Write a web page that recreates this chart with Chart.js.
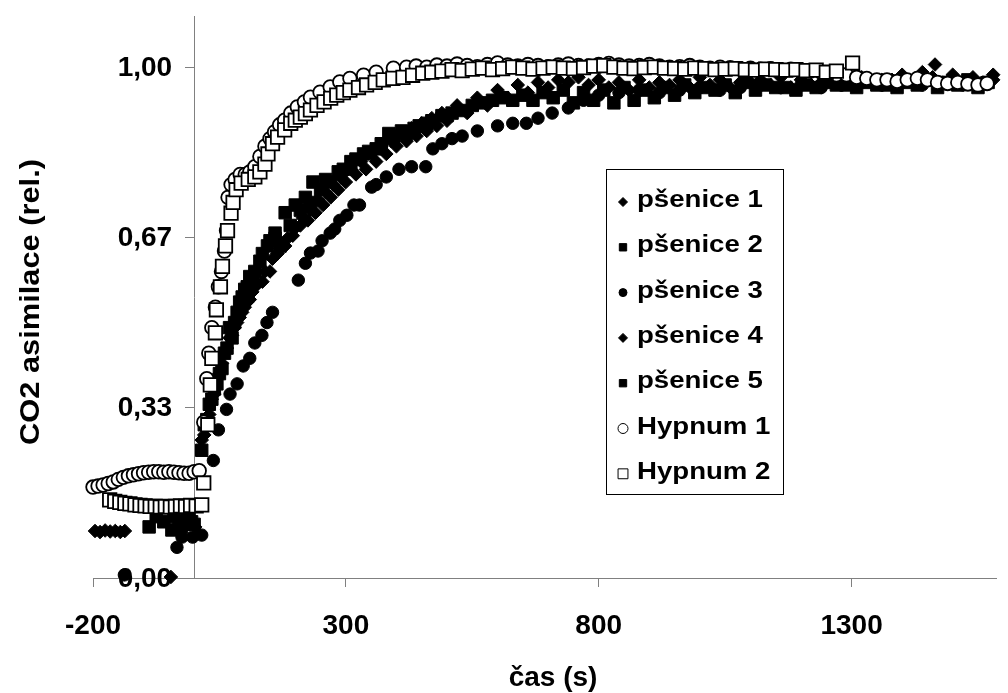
<!DOCTYPE html>
<html>
<head>
<meta charset="utf-8">
<script src="https://cdn.jsdelivr.net/npm/chart.js@4.4.1/dist/chart.umd.min.js"></script>
<style>
  html, body { margin: 0; padding: 0; background: #fff; }
  #wrap { width: 1008px; height: 693px; position: relative; }
</style>
</head>
<body>
<div id="wrap"><canvas id="graf"></canvas></div>
<script>
// [cas (s), relativni asimilace CO2]
const psenice1 = [
  [-196, 0.092], [-186, 0.090], [-176, 0.093], [-166, 0.091], [-156, 0.092], [-146, 0.090], [-137, 0.092],
  [20, 0.28], [30, 0.32], [40, 0.36], [50, 0.40], [60, 0.44], [70, 0.47], [80, 0.49], [90, 0.51], [100, 0.53],
  [110, 0.545], [120, 0.57], [135, 0.58], [150, 0.60], [165, 0.635], [180, 0.65], [195, 0.67], [210, 0.69],
  [225, 0.70], [240, 0.715], [255, 0.73], [270, 0.745], [285, 0.76], [300, 0.775], [320, 0.79], [340, 0.80],
  [360, 0.815], [380, 0.83], [400, 0.845], [420, 0.855], [440, 0.865], [460, 0.875], [480, 0.885], [500, 0.895],
  [540, 0.91], [580, 0.925], [620, 0.94], [660, 0.95], [700, 0.96], [740, 0.97], [780, 0.965], [820, 0.96],
  [860, 0.955], [900, 0.96], [940, 0.965], [980, 0.96], [1020, 0.965], [1060, 0.96], [1100, 0.97], [1140, 0.965],
  [1180, 0.96], [1220, 0.965], [1260, 0.97], [1300, 0.965], [1340, 0.97], [1380, 0.975], [1420, 0.97],
  [1460, 0.98], [1500, 0.975], [1540, 0.97], [1580, 0.975]
];

const psenice2 = [
  [-89, 0.100], [-75, 0.120], [-44, 0.094], [-30, 0.110], [-20, 0.105], [-10, 0.115], [0, 0.105],
  [20, 0.30], [30, 0.34], [40, 0.37], [50, 0.40], [60, 0.44], [70, 0.49], [80, 0.50], [90, 0.54], [100, 0.565],
  [110, 0.59], [120, 0.60], [135, 0.635], [150, 0.66], [160, 0.675], [180, 0.715], [200, 0.73], [220, 0.745],
  [235, 0.775], [260, 0.78], [285, 0.795], [310, 0.815], [335, 0.83], [360, 0.84], [385, 0.87], [410, 0.875],
  [435, 0.88], [460, 0.89], [490, 0.905], [510, 0.91], [550, 0.925], [590, 0.935], [630, 0.935], [670, 0.935],
  [710, 0.94], [750, 0.93], [790, 0.935], [830, 0.93], [870, 0.935], [910, 0.94], [950, 0.945], [990, 0.95],
  [1030, 0.955], [1070, 0.95], [1110, 0.955], [1150, 0.96], [1190, 0.955], [1230, 0.96], [1270, 0.965],
  [1310, 0.96], [1350, 0.965], [1390, 0.96], [1430, 0.965], [1470, 0.96], [1510, 0.965], [1550, 0.96]
];

const psenice3 = [
  [-138, 0.006], [-34, 0.060], [-24, 0.080], [-3, 0.080], [15, 0.084],
  [38, 0.23], [48, 0.29], [64, 0.33], [71, 0.36], [85, 0.38], [97, 0.415], [110, 0.43], [120, 0.46],
  [134, 0.475], [144, 0.50], [155, 0.52], [206, 0.583], [220, 0.616], [230, 0.636], [245, 0.64], [253, 0.66],
  [269, 0.675], [278, 0.683], [288, 0.70], [302, 0.71], [316, 0.73], [327, 0.73], [351, 0.765], [360, 0.77],
  [380, 0.785], [405, 0.80], [430, 0.805], [458, 0.805], [472, 0.84], [490, 0.85], [510, 0.86], [530, 0.865],
  [560, 0.875], [600, 0.885], [630, 0.89], [657, 0.89], [680, 0.90], [708, 0.91], [740, 0.92], [770, 0.935],
  [800, 0.945], [840, 0.95], [880, 0.955], [920, 0.95], [960, 0.955], [1000, 0.96], [1040, 0.955], [1080, 0.96],
  [1120, 0.965], [1160, 0.96], [1200, 0.965], [1240, 0.96], [1280, 0.965], [1320, 0.97], [1360, 0.965],
  [1400, 0.97], [1440, 0.965], [1480, 0.97], [1520, 0.965], [1560, 0.97]
];

const psenice4 = [
  [-46, 0.002], [-18, 0.105], [-8, 0.110], [2, 0.100],
  [15, 0.27], [25, 0.31], [35, 0.35], [45, 0.39], [55, 0.42], [65, 0.45], [75, 0.475], [85, 0.50], [95, 0.52],
  [105, 0.54], [115, 0.56], [125, 0.575], [140, 0.60], [155, 0.625], [170, 0.645], [185, 0.665], [200, 0.685],
  [215, 0.705], [230, 0.72], [245, 0.74], [260, 0.755], [275, 0.77], [290, 0.785], [310, 0.80], [330, 0.815],
  [350, 0.83], [370, 0.845], [390, 0.855], [410, 0.87], [430, 0.88], [450, 0.89], [470, 0.90], [490, 0.91],
  [520, 0.925], [560, 0.94], [600, 0.955], [640, 0.965], [680, 0.97], [720, 0.975], [760, 0.98], [800, 0.975],
  [840, 0.97], [880, 0.975], [920, 0.97], [960, 0.975], [1000, 0.98], [1040, 0.975], [1080, 0.97], [1120, 0.975],
  [1160, 0.98], [1200, 0.975], [1240, 0.97], [1280, 0.975], [1320, 0.98], [1360, 0.975], [1400, 0.985],
  [1440, 0.99], [1465, 1.005], [1500, 0.985], [1540, 0.98], [1580, 0.985]
];

const psenice5 = [
  [-60, 0.110], [-40, 0.120], [-25, 0.100], [-15, 0.120], [-5, 0.110],
  [15, 0.25], [25, 0.31], [35, 0.35], [45, 0.38], [55, 0.41], [65, 0.45], [75, 0.47], [85, 0.52], [95, 0.55],
  [105, 0.57], [115, 0.585], [130, 0.62], [145, 0.65], [160, 0.665], [170, 0.65], [190, 0.69], [210, 0.72],
  [230, 0.735], [250, 0.76], [270, 0.775], [295, 0.80], [320, 0.82], [345, 0.835], [370, 0.85], [395, 0.865],
  [420, 0.87], [445, 0.885], [470, 0.895], [500, 0.905], [530, 0.915], [570, 0.93], [610, 0.94], [650, 0.945],
  [690, 0.95], [730, 0.955], [770, 0.95], [810, 0.955], [850, 0.96], [890, 0.955], [930, 0.96], [970, 0.965],
  [1010, 0.96], [1050, 0.965], [1090, 0.97], [1130, 0.965], [1170, 0.96], [1210, 0.965], [1250, 0.97],
  [1290, 0.965], [1330, 0.97], [1370, 0.965], [1410, 0.97], [1450, 0.975], [1490, 0.97], [1530, 0.975], [1570, 0.97]
];

const hypnum1 = [
  [-200, 0.178], [-190, 0.180], [-180, 0.182], [-170, 0.185], [-160, 0.188], [-150, 0.193], [-140, 0.197],
  [-130, 0.200], [-120, 0.202], [-110, 0.204], [-100, 0.206], [-90, 0.207], [-80, 0.208], [-70, 0.208],
  [-60, 0.207], [-50, 0.208], [-40, 0.207], [-30, 0.206], [-20, 0.205], [-10, 0.205], [0, 0.208], [10, 0.21],
  [19, 0.305], [25, 0.39], [29, 0.44], [35, 0.49], [42, 0.53], [48, 0.57], [54, 0.60], [60, 0.64], [64, 0.68],
  [67, 0.745], [73, 0.77], [81, 0.78], [91, 0.79], [101, 0.79], [110, 0.795], [120, 0.805], [130, 0.825],
  [140, 0.845], [150, 0.86], [159, 0.873], [169, 0.887], [179, 0.896], [191, 0.91], [204, 0.922], [218, 0.932],
  [230, 0.941], [249, 0.951], [269, 0.961], [288, 0.971], [308, 0.978], [335, 0.984], [360, 0.99], [394, 0.998],
  [420, 1.0], [439, 1.002], [460, 1.0], [480, 1.004], [500, 1.002], [520, 1.006], [540, 1.003], [560, 1.001],
  [580, 1.005], [600, 1.008], [620, 1.004], [640, 1.002], [660, 1.005], [680, 1.003], [700, 1.001], [720, 1.004],
  [740, 1.006], [760, 1.003], [780, 1.002], [800, 1.005], [820, 1.007], [840, 1.004], [860, 1.002], [880, 1.003],
  [900, 1.005], [920, 1.002], [940, 1.0], [960, 1.001], [980, 1.003], [1000, 1.0], [1020, 0.998], [1040, 1.0],
  [1060, 0.999], [1080, 0.997], [1100, 0.998], [1120, 0.996], [1140, 0.997], [1160, 0.995], [1180, 0.996],
  [1200, 0.994], [1220, 0.993], [1240, 0.99], [1255, 0.988], [1270, 0.985], [1290, 0.985], [1310, 0.98],
  [1330, 0.978], [1350, 0.975], [1370, 0.975], [1390, 0.972], [1410, 0.975], [1430, 0.978], [1450, 0.975],
  [1470, 0.97], [1490, 0.968], [1510, 0.97], [1530, 0.967], [1550, 0.965], [1568, 0.968]
];

const hypnum2 = [
  [-167, 0.153], [-157, 0.150], [-147, 0.148], [-137, 0.146], [-127, 0.145], [-117, 0.143], [-107, 0.142],
  [-97, 0.141], [-87, 0.140], [-77, 0.140], [-67, 0.139], [-57, 0.140], [-47, 0.139], [-37, 0.140], [-27, 0.141],
  [-17, 0.140], [-7, 0.142], [4, 0.141], [15, 0.143], [19, 0.186],
  [27, 0.30], [32, 0.378], [35, 0.43], [42, 0.48], [44, 0.525], [52, 0.57], [56, 0.61], [62, 0.65], [66, 0.68],
  [73, 0.714], [77, 0.735], [83, 0.76], [93, 0.773], [107, 0.78], [120, 0.785], [130, 0.795], [140, 0.81],
  [146, 0.83], [155, 0.85], [165, 0.863], [179, 0.877], [191, 0.89], [200, 0.896], [210, 0.902], [220, 0.909],
  [230, 0.916], [243, 0.925], [257, 0.932], [270, 0.939], [282, 0.945], [295, 0.95], [308, 0.955], [325, 0.96],
  [341, 0.965], [358, 0.97], [374, 0.975], [393, 0.978], [413, 0.98], [432, 0.984], [452, 0.988], [470, 0.99],
  [490, 0.992], [510, 0.995], [530, 0.993], [550, 0.996], [570, 0.998], [590, 0.995], [610, 0.997], [630, 1.0],
  [650, 0.998], [670, 0.996], [690, 0.998], [710, 1.0], [730, 0.998], [750, 0.997], [770, 0.999], [790, 1.002],
  [810, 1.003], [830, 1.0], [850, 0.998], [870, 0.997], [890, 0.999], [910, 1.0], [930, 0.998], [950, 0.997],
  [970, 0.996], [990, 0.998], [1010, 0.997], [1030, 0.995], [1050, 0.996], [1070, 0.997], [1090, 0.995],
  [1110, 0.994], [1130, 0.996], [1150, 0.995], [1170, 0.994], [1190, 0.995], [1210, 0.993], [1230, 0.994],
  [1250, 0.99], [1270, 0.992], [1302, 1.008]
];

const nazvy = ['pšenice 1', 'pšenice 2', 'pšenice 3', 'pšenice 4', 'pšenice 5', 'Hypnum 1', 'Hypnum 2'];
const xTicks = [-200, 300, 800, 1300];
const yTicks = [0, 1 / 3, 2 / 3, 1];

const FONT = '"Liberation Sans", Arial, Helvetica, sans-serif';

// znacky: tvar, velikost v grafu, velikost v legende, vypln
const znacky = [
  { styl: 'rectRot', r: 6.8, rl: 4.5, fill: '#000' },
  { styl: 'rect', r: 8.8, rl: 5.2, fill: '#000' },
  { styl: 'circle', r: 6.2, rl: 4, fill: '#000' },
  { styl: 'rectRot', r: 6.8, rl: 4.5, fill: '#000' },
  { styl: 'rect', r: 8.8, rl: 5.2, fill: '#000' },
  { styl: 'circle', r: 6.8, rl: 5, fill: '#fff' },
  { styl: 'rect', r: 9.5, rl: 7, fill: '#fff' },
];

const rady = [psenice1, psenice2, psenice3, psenice4, psenice5, hypnum1, hypnum2];

const datasets = rady.map((body, i) => ({
  label: nazvy[i],
  data: body.map(([x, y]) => ({ x, y })),
  showLine: false,
  pointStyle: znacky[i].styl,
  pointRadius: znacky[i].r,
  pointBackgroundColor: znacky[i].fill,
  pointBorderColor: '#000',
  pointBorderWidth: znacky[i].fill === '#fff' ? 1.8 : 1,
  clip: false,
  order: rady.length - i, // later series on top
}));

const yLabel = (v) => v.toFixed(2).replace('.', ',');

// y tick labels sit left of the axis crossing at x = 0
const osaY = {
  id: 'osaY',
  beforeDatasetsDraw(chart) {
    const ctx = chart.ctx;
    const y = chart.scales.y;
    const x0 = chart.scales.x.getPixelForValue(0);
    ctx.save();
    ctx.fillStyle = '#000';
    ctx.font = 'bold 28px ' + FONT;
    ctx.textAlign = 'right';
    ctx.textBaseline = 'middle';
    yTicks.forEach((v) => ctx.fillText(yLabel(v), x0 - 22, y.getPixelForValue(v) + 1));
    ctx.restore();
  }
};

// axis titles + legend box drawn on top of the plot
const popisky = {
  id: 'popisky',
  afterDraw(chart) {
    const ctx = chart.ctx;
    ctx.save();
    ctx.fillStyle = '#000';
    ctx.font = 'bold 28px ' + FONT;
    ctx.textAlign = 'center';
    ctx.textBaseline = 'alphabetic';
    ctx.fillText('čas (s)', 553, 686);
    ctx.translate(39, 302);
    ctx.rotate(-Math.PI / 2);
    ctx.scale(1.1, 1);
    ctx.fillText('CO2 asimilace (rel.)', 0, 0);
    ctx.restore();

    // legend
    ctx.save();
    ctx.fillStyle = '#fff';
    ctx.fillRect(606, 169, 177, 325);
    ctx.strokeStyle = '#000';
    ctx.lineWidth = 1;
    ctx.strokeRect(606.5, 169.5, 177, 325);
    ctx.font = 'bold 23px ' + FONT;
    ctx.textAlign = 'left';
    ctx.textBaseline = 'alphabetic';
    chart.data.datasets.forEach((ds, i) => {
      const y = 202 + i * 45.3;
      ctx.fillStyle = znacky[i].fill;
      ctx.strokeStyle = '#000';
      ctx.lineWidth = 1;
      Chart.helpers.drawPoint(ctx, { pointStyle: znacky[i].styl, radius: znacky[i].rl, borderWidth: 1, rotation: 0 }, 623, y);
      ctx.save();
      ctx.fillStyle = '#000';
      ctx.translate(637, y + 5);
      ctx.scale(1.2, 1);
      ctx.fillText(ds.label, 0, 0);
      ctx.restore();
    });
    ctx.restore();
  }
};

const tickFont = { family: FONT, size: 28, weight: 'bold' };

new Chart(document.getElementById('graf'), {
  type: 'scatter',
  data: { datasets },
  options: {
    responsive: true,
    maintainAspectRatio: false,
    animation: false,
    events: [],
    layout: { padding: { left: 93, top: 16, right: 0, bottom: 0 } },
    scales: {
      x: {
        type: 'linear',
        position: 'bottom',
        min: -200,
        max: 1587,
        afterBuildTicks: (s) => { s.ticks = xTicks.map((v) => ({ value: v })); },
        afterFit: (s) => { s.height = 115; s.paddingLeft = 0; s.paddingRight = 0; },
        grid: { display: true, drawOnChartArea: false, drawTicks: true, tickLength: 9, color: '#808080' },
        border: { display: true, color: '#808080', width: 1 },
        ticks: { font: tickFont, color: '#000', padding: 22, maxRotation: 0, autoSkip: false, callback: (v) => String(v) },
      },
      y: {
        type: 'linear',
        position: { x: 0 },
        min: 0,
        max: 1.1,
        afterBuildTicks: (s) => { s.ticks = yTicks.map((v) => ({ value: v })); },
        afterFit: (s) => { s.paddingTop = 0; s.paddingBottom = 0; },
        grid: { display: true, drawOnChartArea: false, drawTicks: true, tickLength: 9, color: '#808080' },
        border: { display: true, color: '#808080', width: 1 },
        ticks: { display: false },
      },
    },
    plugins: {
      legend: { display: false },
      tooltip: { enabled: false },
    },
  },
  plugins: [osaY, popisky],
});
</script>
</body>
</html>
